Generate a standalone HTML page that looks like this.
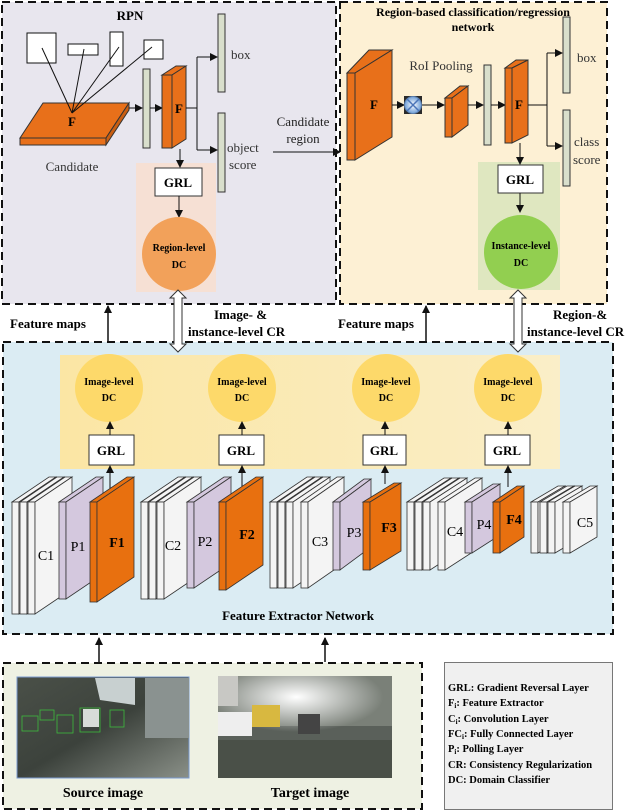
<!DOCTYPE html>
<html><head><meta charset="utf-8"><style>
html,body{margin:0;padding:0;background:#fff;}
svg{display:block;}
text{font-family:"Liberation Serif",serif;}
.b{font-weight:bold;}
</style></head><body>
<svg width="640" height="811" viewBox="0 0 640 811" xmlns="http://www.w3.org/2000/svg">
<defs>
<marker id="ah" markerWidth="8" markerHeight="8" refX="7" refY="4" orient="auto" markerUnits="userSpaceOnUse"><path d="M0,0 L8,4 L0,8 z" fill="#111"/></marker>
<linearGradient id="yb" x1="0" x2="1" y1="0" y2="0"><stop offset="0" stop-color="#fbe6a4"/><stop offset="1" stop-color="#faeec8"/></linearGradient>
<linearGradient id="src" x1="0" x2="1" y1="0" y2="1"><stop offset="0" stop-color="#4a5048"/><stop offset="0.5" stop-color="#3c423c"/><stop offset="1" stop-color="#8a9088"/></linearGradient>
<radialGradient id="fog" cx="0.45" cy="0.3" r="0.5"><stop offset="0" stop-color="#ffffff"/><stop offset="1" stop-color="#ffffff" stop-opacity="0"/></radialGradient>
<radialGradient id="xg" cx="0.5" cy="0.5" r="0.5"><stop offset="0" stop-color="#ffffff"/><stop offset="1" stop-color="#6f9fd8"/></radialGradient>
</defs>

<!-- RPN box -->
<rect x="2" y="2" width="334" height="302" fill="#e8e6ee" stroke="#111" stroke-width="2" stroke-dasharray="8 5"/>
<text x="130" y="20" text-anchor="middle" font-size="13" class="b">RPN</text>
<g fill="#fff" stroke="#111" stroke-width="1">
<rect x="27" y="33" width="29" height="30"/><rect x="68" y="44" width="30" height="11"/><rect x="110" y="32" width="13" height="34"/><rect x="144" y="40" width="19" height="19"/>
</g>
<polygon points="20,138 43,103 129,103 106,138" fill="#e8701a" stroke="#333"/>
<polygon points="20,138 106,138 106,145 20,145" fill="#e8701a" stroke="#333"/>
<polygon points="106,138 129,103 129,110 106,145" fill="#c95e12" stroke="#333"/>
<g stroke="#111" stroke-width="1"><line x1="42" y1="48" x2="72" y2="113"/><line x1="84" y1="49" x2="72" y2="113"/><line x1="119" y1="47" x2="72" y2="113"/><line x1="152" y1="47" x2="72" y2="113"/></g>
<text x="72" y="126" text-anchor="middle" font-size="13" class="b">F</text>
<text x="72" y="171" text-anchor="middle" font-size="13" fill="#333">Candidate</text>
<line x1="129" y1="108" x2="142" y2="108" stroke="#111" marker-end="url(#ah)"/>
<rect x="143" y="69" width="7" height="79" fill="#d9dfcc" stroke="#333"/>
<line x1="150" y1="108" x2="162" y2="108" stroke="#111" marker-end="url(#ah)"/>
<polygon points="162,75 176,66 186,66 172,75" fill="#e8701a" stroke="#333"/>
<rect x="162" y="75" width="10" height="73" fill="#e8701a" stroke="#333"/>
<polygon points="172,75 186,66 186,139 172,148" fill="#e8701a" stroke="#333"/>
<text x="179" y="113" text-anchor="middle" font-size="13" class="b">F</text>
<path d="M186,108 H197 M197,57 V150" stroke="#111" fill="none"/>
<line x1="197" y1="57" x2="217" y2="57" stroke="#111" marker-end="url(#ah)"/>
<line x1="197" y1="150" x2="217" y2="150" stroke="#111" marker-end="url(#ah)"/>
<rect x="218" y="14" width="7" height="78" fill="#d9dfcc" stroke="#333"/>
<rect x="218" y="113" width="7" height="79" fill="#d9dfcc" stroke="#333"/>
<text x="231" y="59" font-size="13" fill="#333">box</text>
<text x="227" y="152" font-size="13" fill="#333">object</text>
<text x="229" y="169" font-size="13" fill="#333">score</text>
<rect x="136" y="163" width="80" height="129" fill="#f6e0d4"/>
<line x1="180" y1="149" x2="180" y2="167" stroke="#111" marker-end="url(#ah)"/>
<rect x="155" y="168" width="47" height="28" fill="#fff" stroke="#333"/>
<text x="178" y="187" text-anchor="middle" font-size="13" class="b">GRL</text>
<line x1="179" y1="196" x2="179" y2="217" stroke="#111" marker-end="url(#ah)"/>
<circle cx="179" cy="254" r="37" fill="#f2a15a"/>
<text x="179" y="251" text-anchor="middle" font-size="10" class="b">Region-level</text>
<text x="179" y="268" text-anchor="middle" font-size="10" class="b">DC</text>

<!-- Candidate region -->
<text x="303" y="126" text-anchor="middle" font-size="13" fill="#222">Candidate</text>
<text x="303" y="143" text-anchor="middle" font-size="13" fill="#222">region</text>
<line x1="273" y1="152" x2="340" y2="152" stroke="#111" marker-end="url(#ah)"/>

<!-- Region-based box -->
<rect x="340" y="2" width="267" height="302" fill="#fdf0d4" stroke="#111" stroke-width="2" stroke-dasharray="8 5"/>
<text x="473" y="16" text-anchor="middle" font-size="12" class="b">Region-based classification/regression</text>
<text x="473" y="31" text-anchor="middle" font-size="12" class="b">network</text>
<polygon points="347,73 369,50 392,50 355,73" fill="#e8701a" stroke="#333"/>
<rect x="347" y="73" width="8" height="87" fill="#e8701a" stroke="#333"/>
<polygon points="355,73 392,50 392,137 355,160" fill="#e8701a" stroke="#333"/>
<text x="374" y="109" text-anchor="middle" font-size="13" class="b">F</text>
<line x1="392" y1="105" x2="404" y2="105" stroke="#111" marker-end="url(#ah)"/>
<rect x="404" y="96" width="18" height="18" fill="#2a2a2a"/>
<circle cx="413" cy="105" r="8.5" fill="url(#xg)" stroke="#5b7fb0"/>
<path d="M407,99 L419,111 M419,99 L407,111" stroke="#4a74b8" stroke-width="1.5"/>
<line x1="422" y1="105" x2="444" y2="105" stroke="#111" marker-end="url(#ah)"/>
<text x="441" y="70" text-anchor="middle" font-size="13" fill="#333">RoI Pooling</text>
<polygon points="445,98 460,86 468,86 452,98" fill="#e8701a" stroke="#333"/>
<rect x="445" y="98" width="7" height="39" fill="#e8701a" stroke="#333"/>
<polygon points="452,98 468,86 468,125 452,137" fill="#e8701a" stroke="#333"/>
<line x1="468" y1="105" x2="483" y2="105" stroke="#111" marker-end="url(#ah)"/>
<rect x="484" y="65" width="7" height="80" fill="#d9dfcc" stroke="#333"/>
<line x1="491" y1="105" x2="505" y2="105" stroke="#111" marker-end="url(#ah)"/>
<polygon points="505,68 516,60 528,60 512,68" fill="#e8701a" stroke="#333"/>
<rect x="505" y="68" width="7" height="75" fill="#e8701a" stroke="#333"/>
<polygon points="512,68 528,60 528,135 512,143" fill="#e8701a" stroke="#333"/>
<text x="519" y="109" text-anchor="middle" font-size="13" class="b">F</text>
<path d="M528,105 H547 M547,53 V146" stroke="#111" fill="none"/>
<line x1="547" y1="53" x2="562" y2="53" stroke="#111" marker-end="url(#ah)"/>
<line x1="547" y1="146" x2="562" y2="146" stroke="#111" marker-end="url(#ah)"/>
<rect x="563" y="17" width="7" height="76" fill="#d9dfcc" stroke="#333"/>
<rect x="563" y="110" width="7" height="76" fill="#d9dfcc" stroke="#333"/>
<text x="577" y="62" font-size="13" fill="#333">box</text>
<text x="574" y="146" font-size="13" fill="#333">class</text>
<text x="573" y="164" font-size="13" fill="#333">score</text>
<rect x="478" y="162" width="82" height="128" fill="#dfe7c0"/>
<line x1="520" y1="143" x2="520" y2="164" stroke="#111" marker-end="url(#ah)"/>
<rect x="498" y="165" width="45" height="28" fill="#fff" stroke="#333"/>
<text x="520" y="184" text-anchor="middle" font-size="13" class="b">GRL</text>
<line x1="520" y1="193" x2="520" y2="212" stroke="#111" marker-end="url(#ah)"/>
<circle cx="521" cy="252" r="37" fill="#92cf50"/>
<text x="521" y="249" text-anchor="middle" font-size="10" class="b">Instance-level</text>
<text x="521" y="266" text-anchor="middle" font-size="10" class="b">DC</text>

<!-- Between -->
<text x="10" y="328" font-size="13" class="b">Feature maps</text>
<line x1="108" y1="342" x2="108" y2="306" stroke="#111" stroke-width="1.5" marker-end="url(#ah)"/>
<text x="214" y="319" font-size="13" class="b">Image- &amp;</text>
<text x="188" y="336" font-size="13" class="b">instance-level CR</text>
<text x="338" y="328" font-size="13" class="b">Feature maps</text>
<line x1="426" y1="342" x2="426" y2="306" stroke="#111" stroke-width="1.5" marker-end="url(#ah)"/>
<text x="553" y="319" font-size="13" class="b">Region-&amp;</text>
<text x="527" y="336" font-size="13" class="b">instance-level CR</text>

<!-- Feature extractor box -->
<rect x="3" y="342" width="610" height="292" fill="#dbecf3" stroke="#111" stroke-width="2" stroke-dasharray="8 5"/>
<polygon points="178,290 186,298 182,298 182,344 186,344 178,352 170,344 174,344 174,298 170,298" fill="#fff" stroke="#333"/>
<polygon points="518,290 526,298 522,298 522,344 526,344 518,352 510,344 514,344 514,298 510,298" fill="#fff" stroke="#333"/>
<rect x="60" y="355" width="500" height="114" fill="url(#yb)"/>
<g fill="#fdd96a">
<circle cx="109" cy="388" r="34"/><circle cx="242" cy="388" r="34"/><circle cx="386" cy="388" r="34"/><circle cx="508" cy="388" r="34"/>
</g>
<g font-size="10" text-anchor="middle" font-weight="bold">
<text x="109" y="385">Image-level</text><text x="109" y="401">DC</text>
<text x="242" y="385">Image-level</text><text x="242" y="401">DC</text>
<text x="386" y="385">Image-level</text><text x="386" y="401">DC</text>
<text x="508" y="385">Image-level</text><text x="508" y="401">DC</text>
</g>
<g fill="#fff" stroke="#333">
<rect x="89" y="435" width="45" height="30"/><rect x="219" y="435" width="45" height="30"/><rect x="363" y="435" width="43" height="30"/><rect x="485" y="435" width="45" height="30"/>
</g>
<g font-size="13" text-anchor="middle" font-weight="bold">
<text x="111" y="455">GRL</text><text x="241" y="455">GRL</text><text x="384" y="455">GRL</text><text x="507" y="455">GRL</text>
</g>
<g stroke="#111" marker-end="url(#ah)">
<line x1="110" y1="435" x2="110" y2="422"/><line x1="242" y1="435" x2="242" y2="422"/><line x1="385" y1="435" x2="385" y2="422"/><line x1="508" y1="435" x2="508" y2="422"/>
<line x1="110" y1="490" x2="110" y2="466"/><line x1="242" y1="490" x2="242" y2="466"/><line x1="385" y1="484" x2="385" y2="466"/><line x1="508" y1="487" x2="508" y2="466"/>
</g>

<g stroke="#333" stroke-width="0.8">
<g fill="#f4f4f4">
<polygon points="12,502 49,477 56,477 19,502"/><rect x="12" y="502" width="7" height="112"/><polygon points="19,502 56,477 56,589 19,614"/>
<polygon points="20,502 57,477 64,477 27,502"/><rect x="20" y="502" width="7" height="112"/><polygon points="27,502 64,477 64,589 27,614"/>
<polygon points="28,502 65,477 72,477 35,502"/><rect x="28" y="502" width="7" height="112"/><polygon points="35,502 72,477 72,589 35,614"/>
</g>
<g fill="#d4c8de"><polygon points="59,502 96,477 103,477 66,502"/><rect x="59" y="502" width="7" height="97"/><polygon points="66,502 103,477 103,574 66,599"/></g>
<g fill="#e8700f"><polygon points="90,502 127,477 134,477 97,502"/><rect x="90" y="502" width="7" height="100"/><polygon points="97,502 134,477 134,577 97,602"/></g>
<g fill="#f4f4f4">
<polygon points="141,502 178,477 185,477 148,502"/><rect x="141" y="502" width="7" height="97"/><polygon points="148,502 185,477 185,574 148,599"/>
<polygon points="149,502 186,477 193,477 156,502"/><rect x="149" y="502" width="7" height="97"/><polygon points="156,502 193,477 193,574 156,599"/>
<polygon points="157,502 194,477 201,477 164,502"/><rect x="157" y="502" width="7" height="97"/><polygon points="164,502 201,477 201,574 164,599"/>
</g>
<g fill="#d4c8de"><polygon points="187,502 224,477 231,477 194,502"/><rect x="187" y="502" width="7" height="86"/><polygon points="194,502 231,477 231,563 194,588"/></g>
<g fill="#e8700f"><polygon points="219,502 256,477 263,477 226,502"/><rect x="219" y="502" width="7" height="88"/><polygon points="226,502 263,477 263,565 226,590"/></g>
<g fill="#f4f4f4">
<polygon points="270,502 307,477 314,477 277,502"/><rect x="270" y="502" width="7" height="86"/><polygon points="277,502 314,477 314,563 277,588"/>
<polygon points="278,502 315,477 322,477 285,502"/><rect x="278" y="502" width="7" height="86"/><polygon points="285,502 322,477 322,563 285,588"/>
<polygon points="286,502 323,477 330,477 293,502"/><rect x="286" y="502" width="7" height="86"/><polygon points="293,502 330,477 330,563 293,588"/>
<polygon points="301,502 337,477 344,477 308,502"/><rect x="301" y="502" width="7" height="86"/><polygon points="308,502 344,477 344,563 308,588"/>
</g>
<g fill="#d4c8de"><polygon points="333,502 364,479 371,479 340,502"/><rect x="333" y="502" width="7" height="68"/><polygon points="340,502 371,479 371,547 340,570"/></g>
<g fill="#e8700f"><polygon points="363,502 394,483 401,483 370,502"/><rect x="363" y="502" width="7" height="68"/><polygon points="370,502 401,483 401,551 370,570"/></g>
<g fill="#f4f4f4">
<polygon points="407,502 444,478 451,478 414,502"/><rect x="407" y="502" width="7" height="68"/><polygon points="414,502 451,478 451,546 414,570"/>
<polygon points="415,502 452,478 459,478 422,502"/><rect x="415" y="502" width="7" height="68"/><polygon points="422,502 459,478 459,546 422,570"/>
<polygon points="423,502 460,478 467,478 430,502"/><rect x="423" y="502" width="7" height="68"/><polygon points="430,502 467,478 467,546 430,570"/>
<polygon points="438,502 475,478 482,478 445,502"/><rect x="438" y="502" width="7" height="68"/><polygon points="445,502 482,478 482,546 445,570"/>
</g>
<g fill="#d4c8de"><polygon points="465,502 493,484 500,484 472,502"/><rect x="465" y="502" width="7" height="51"/><polygon points="472,502 500,484 500,535 472,553"/></g>
<g fill="#e8700f"><polygon points="493,502 517,486 524,486 500,502"/><rect x="493" y="502" width="7" height="51"/><polygon points="500,502 524,486 524,537 500,553"/></g>
<g fill="#f4f4f4">
<polygon points="531,502 558,486 565,486 538,502"/><rect x="531" y="502" width="7" height="51"/><polygon points="538,502 565,486 565,537 538,553"/>
<polygon points="540,502 567,486 574,486 547,502"/><rect x="540" y="502" width="7" height="51"/><polygon points="547,502 574,486 574,537 547,553"/>
<polygon points="548,502 575,486 582,486 555,502"/><rect x="548" y="502" width="7" height="51"/><polygon points="555,502 582,486 582,537 555,553"/>
<polygon points="563,502 590,486 597,486 570,502"/><rect x="563" y="502" width="7" height="51"/><polygon points="570,502 597,486 597,537 570,553"/>
</g>
</g>
<g font-size="14" text-anchor="middle">
<text x="46" y="560">C1</text><text x="78" y="551">P1</text><text x="117" y="547" font-weight="bold">F1</text>
<text x="173" y="550">C2</text><text x="205" y="546">P2</text><text x="247" y="539" font-weight="bold">F2</text>
<text x="320" y="546">C3</text><text x="354" y="537">P3</text><text x="389" y="532" font-weight="bold">F3</text>
<text x="455" y="536">C4</text><text x="484" y="529">P4</text><text x="514" y="524" font-weight="bold">F4</text>
<text x="585" y="527">C5</text>
</g>
<text x="298" y="620" text-anchor="middle" font-size="13" class="b">Feature Extractor Network</text>

<!-- input box -->
<line x1="99" y1="662" x2="99" y2="638" stroke="#111" stroke-width="1.5" marker-end="url(#ah)"/>
<line x1="325" y1="662" x2="325" y2="638" stroke="#111" stroke-width="1.5" marker-end="url(#ah)"/>
<rect x="3" y="663" width="419" height="146" fill="#eef1e3" stroke="#111" stroke-width="2" stroke-dasharray="8 5"/>
<rect x="17" y="677" width="172" height="101" fill="url(#src)" stroke="#7a9ad0"/>
<polygon points="95,678 135,678 135,705 100,700" fill="#c8d0d0"/>
<rect x="145" y="678" width="44" height="60" fill="#8a9290"/>
<g fill="none" stroke="#3dbb3d" stroke-width="0.8"><rect x="22" y="716" width="16" height="15"/><rect x="40" y="710" width="14" height="10"/><rect x="80" y="708" width="20" height="24"/><rect x="110" y="710" width="14" height="17"/><rect x="57" y="715" width="16" height="18"/></g>
<rect x="83" y="709" width="16" height="18" fill="#d8dcd8"/>
<rect x="218" y="676" width="174" height="102" fill="#5a605a"/>
<rect x="218" y="676" width="174" height="50" fill="#7a8078"/>
<rect x="218" y="676" width="174" height="70" fill="url(#fog)"/>
<rect x="218" y="676" width="20" height="30" fill="#c8c8c4"/>
<rect x="218" y="712" width="34" height="24" fill="#eeeeee"/>
<rect x="252" y="705" width="28" height="22" fill="#d8b840"/>
<rect x="298" y="714" width="22" height="20" fill="#444"/>
<polygon points="218,740 392,740 392,778 218,778" fill="#4a5048"/>
<text x="103" y="797" text-anchor="middle" font-size="14" class="b">Source image</text>
<text x="310" y="797" text-anchor="middle" font-size="14" class="b">Target image</text>

<!-- legend -->
<rect x="444.5" y="662.5" width="168" height="147" fill="#f0f0f0" stroke="#777"/>
<g font-size="10.5" font-weight="bold">
<text x="448" y="691">GRL: Gradient Reversal Layer</text>
<text x="448" y="706">F<tspan font-size="7" dy="2">i</tspan><tspan dy="-2">: Feature Extractor</tspan></text>
<text x="448" y="722">C<tspan font-size="7" dy="2">i</tspan><tspan dy="-2">: Convolution Layer</tspan></text>
<text x="448" y="737">FC<tspan font-size="7" dy="2">i</tspan><tspan dy="-2">: Fully Connected Layer</tspan></text>
<text x="448" y="752">P<tspan font-size="7" dy="2">i</tspan><tspan dy="-2">: Polling Layer</tspan></text>
<text x="448" y="768">CR: Consistency Regularization</text>
<text x="448" y="783">DC: Domain Classifier</text>
</g>
</svg>
</body></html>
